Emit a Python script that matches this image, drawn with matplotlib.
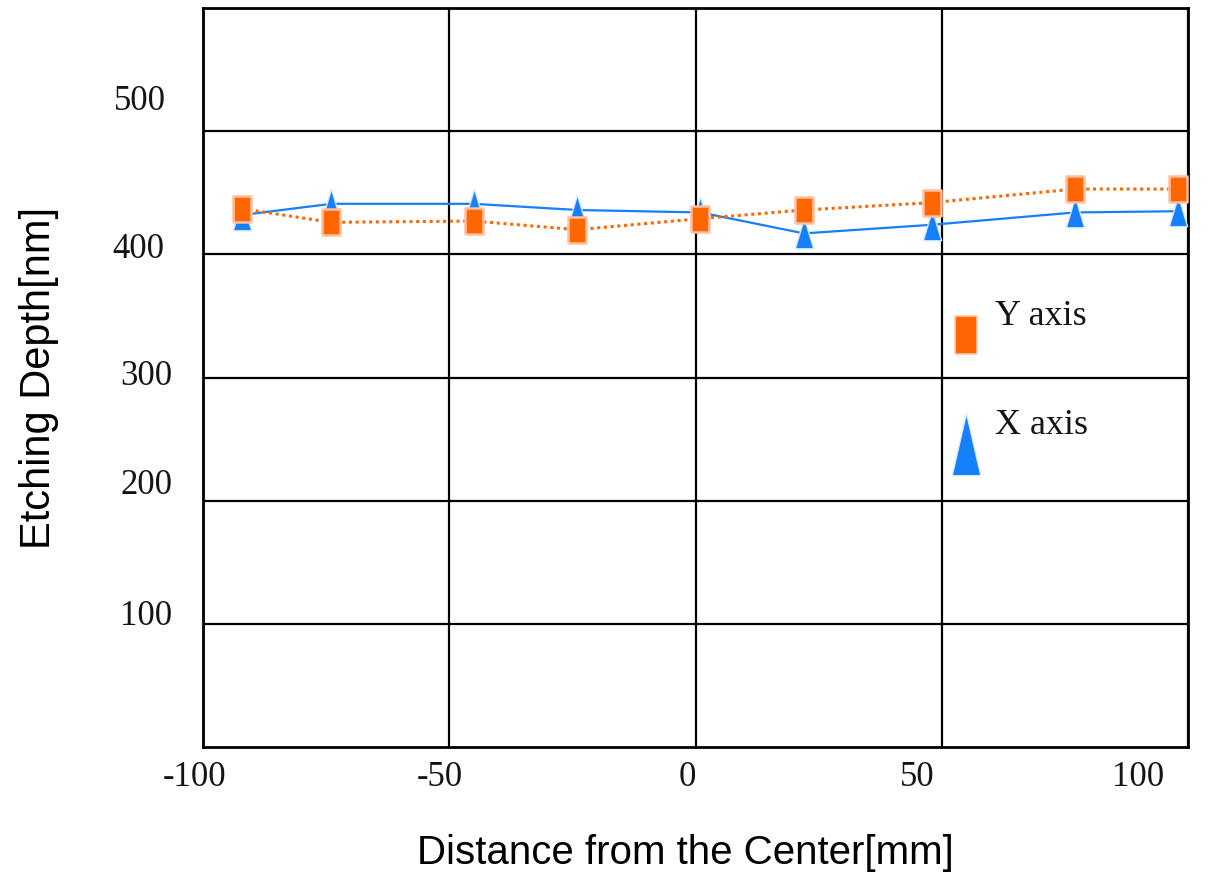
import matplotlib
matplotlib.use("Agg")
import matplotlib.pyplot as plt
import matplotlib.transforms as mtrans
from matplotlib.lines import Line2D

# ---------------- data ----------------
distance_mm = [-92, -74, -45, -24, 1, 22, 48, 77, 98]
x_axis_depth = [432, 441, 441, 436, 434, 417, 424, 434, 435]
y_axis_depth = [437, 426, 427, 420, 429, 436, 442, 453, 453]

x_ticks = [-100, -50, 0, 50, 100]
x_tick_labels = ["-100", "-50", "0", "50", "100"]
y_ticks = [100, 200, 300, 400, 500]
y_tick_labels = ["100", "200", "300", "400", "500"]

series_labels = ["Y axis", "X axis"]

# ---------------- styles ----------------
ORANGE = "#ff6600"
BLUE = "#1580fa"
SERIF = ["Liberation Serif", "DejaVu Serif"]
SANS = ["Liberation Sans", "DejaVu Sans"]

W, H = 1219, 876
fig = plt.figure(figsize=(W / 100, H / 100), dpi=100)
ax = fig.add_axes([203 / W, (H - 747) / H, 985 / W, 739 / H])

rect_marker = [(-0.33, -0.5), (0.33, -0.5), (0.33, 0.5), (-0.33, 0.5), (-0.33, -0.5)]
tri_marker = [(-0.3, -0.5), (0.3, -0.5), (0.0, 0.5), (-0.3, -0.5)]

ax.plot(distance_mm, x_axis_depth, color=BLUE, lw=1.6, ls="-",
        marker=tri_marker, ms=22, mfc=BLUE, mec="#d6e8ff", mew=1.0, zorder=3)
ax.plot(distance_mm, y_axis_depth, color=ORANGE, lw=2.2, ls=(0, (1, 1.2)),
        marker=rect_marker, ms=19, mfc=ORANGE, mec="#ffbfa3", mew=1.8, zorder=4)

ax.set_xlim(-100, 100)
ax.set_ylim(0, 600)
ax.set_xticks(x_ticks)
ax.set_xticklabels(x_tick_labels)
ax.set_yticks(y_ticks)
ax.set_yticklabels(y_tick_labels)

ax.grid(True, color="black", lw=1.6)
ax.set_axisbelow(True)
for s in ax.spines.values():
    s.set_color("black")
    s.set_linewidth(2.0)

ax.tick_params(axis="both", length=0, labelsize=25, labelcolor="#141414")
ax.tick_params(axis="x", pad=10)
ax.tick_params(axis="y", pad=22)
for lbl in ax.get_xticklabels() + ax.get_yticklabels():
    lbl.set_family(SERIF)

# per-label placement offsets (pixels) to mimic the reference layout
x_label_dx = [-8, -9, -8, -24, -50]
y_label_dx = [0, 0, 0, -8, -7]
y_label_dy = [11, 19, 5, 9, 34]
for tick, dx in zip(ax.xaxis.get_major_ticks(), x_label_dx):
    t = tick.label1
    t.set_transform(t.get_transform() + mtrans.ScaledTranslation(dx / 100, 0, fig.dpi_scale_trans))
for tick, dx, dy in zip(ax.yaxis.get_major_ticks(), y_label_dx, y_label_dy):
    t = tick.label1
    t.set_transform(t.get_transform() + mtrans.ScaledTranslation(dx / 100, dy / 100, fig.dpi_scale_trans))

ax.set_xlabel("Distance from the Center[mm]", fontsize=29, family=SANS, color="black")
ax.set_ylabel("Etching Depth[nm]", fontsize=30, family=SANS, color="black")
ax.xaxis.set_label_coords(0.490, -0.118)
ax.yaxis.set_label_coords(-0.146, 0.499)

# legend
h_y = Line2D([], [], ls="none", marker=[(-0.3, -0.5), (0.3, -0.5), (0.3, 0.5), (-0.3, 0.5), (-0.3, -0.5)],
             ms=27, mfc=ORANGE, mec="#ffc9b0", mew=1.2)
h_x = Line2D([], [], ls="none", marker=[(-0.23, -0.5), (0.23, -0.5), (0.0, 0.5), (-0.23, -0.5)],
             ms=45, mfc=BLUE, mec="#e0eeff", mew=1.0)
leg = ax.legend([h_y, h_x], [series_labels[0] + "\n", series_labels[1] + "\n"],
                loc="upper left", bbox_to_anchor=(948 / W, 1 - 300 / H), bbox_transform=fig.transFigure,
                frameon=False, borderpad=0, borderaxespad=0, handlelength=1.0, handletextpad=0.3,
                labelspacing=1.05, prop={"family": SERIF, "size": 26})
for t in leg.get_texts():
    t.set_color("#141414")

fig.savefig("out.png", dpi=100, facecolor="white")
